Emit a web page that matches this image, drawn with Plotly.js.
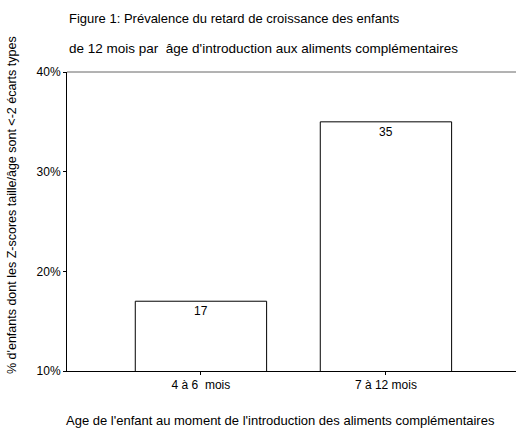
<!DOCTYPE html>
<html><head><meta charset="utf-8">
<script src="https://cdn.plot.ly/plotly-3.0.1.min.js"></script>
<style>html,body{margin:0;padding:0;background:#fff}#c{width:516px;height:432px}</style>
</head><body><div id="c"></div>
<script>
const categories = ["4 à 6  mois", "7 à 12 mois"];
const values = [17, 35];
const yTickVals = [10, 20, 30, 40];
const yTickText = ["10%", "20%", "30%", "40%"];
const titleLine1 = "Figure 1: Prévalence du retard de croissance des enfants";
const titleLine2 = "de 12 mois par  âge d'introduction aux aliments complémentaires";
const xTitle = "Age de l'enfant au moment de l'introduction des aliments complémentaires";
const yTitle = "% d'enfants dont les Z-scores taille/âge sont <-2 écarts types";

const F = "Liberation Sans, Arial, sans-serif";
const trace = {
  type: "bar", x: categories, y: values,
  width: 0.71,
  marker: {color: "#fff", line: {color: "#000", width: 1}},
  text: values.map(String), textposition: "inside", insidetextanchor: "end",
  textfont: {family: F, size: 12, color: "#000"}, hoverinfo: "none"
};
const layout = {
  width: 516, height: 432,
  margin: {l: 67, r: 0, t: 72, b: 61},
  paper_bgcolor: "#fff", plot_bgcolor: "#fff",
  font: {family: F, size: 12, color: "#000"},
  showlegend: false,
  xaxis: {range: [-0.724, 1.703], showline: true, linecolor: "#000", linewidth: 1,
    ticks: "outside", ticklen: 3, tickcolor: "#000", showgrid: false, zeroline: false,
    tickfont: {family: F, size: 12, color: "#000"}},
  yaxis: {range: [10, 40], tickvals: yTickVals, ticktext: yTickText, showline: true,
    linecolor: "#000", linewidth: 1, ticks: "outside", ticklen: 3, tickcolor: "#000",
    showgrid: false, zeroline: false, tickfont: {family: F, size: 12, color: "#000"}},
  shapes: [{type: "line", xref: "paper", yref: "paper", x0: 0, x1: 1, y0: 1, y1: 1,
    line: {color: "#666", width: 1}}],
  annotations: [
    {text: titleLine1, xref: "paper", yref: "paper", x: 0, y: 1 + (72-18)/299,
     xanchor: "left", yanchor: "middle", showarrow: false, font: {family: F, size: 13, color: "#000"}},
    {text: titleLine2, xref: "paper", yref: "paper", x: 0, y: 1 + (72-48)/299,
     xanchor: "left", yanchor: "middle", showarrow: false, font: {family: F, size: 13.5, color: "#000"}},
    {text: xTitle, xref: "paper", yref: "paper", x: (280-67)/449, y: -(421-371)/299,
     xanchor: "center", yanchor: "middle", showarrow: false, font: {family: F, size: 13, color: "#000"}},
    {text: yTitle, xref: "paper", yref: "paper", x: (12-67)/449, y: (371-205)/299, textangle: -90,
     xanchor: "center", yanchor: "middle", showarrow: false, font: {family: F, size: 12.5, color: "#000"}}
  ]
};
Plotly.newPlot("c", [trace], layout, {staticPlot: true, displayModeBar: false});
</script></body></html>
